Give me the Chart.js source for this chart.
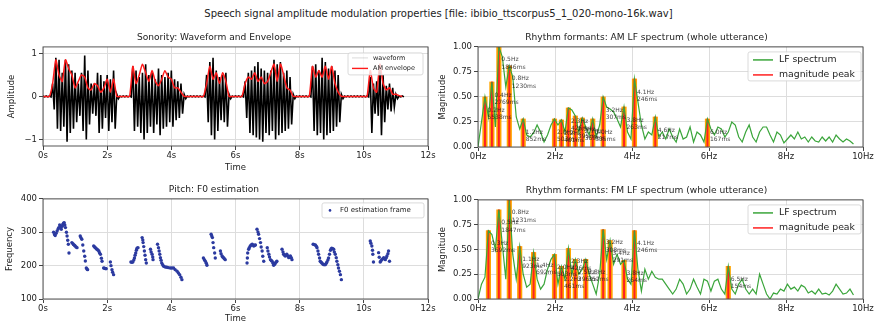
<!DOCTYPE html>
<html lang="en">
<head>
<meta charset="UTF-8">
<title>Speech signal amplitude modulation properties</title>
<script src="https://cdn.jsdelivr.net/npm/chart.js"></script>
<style>
    body { margin: 0; background: #fff; }
    .fig { position: relative; width: 877px; height: 327px; font-family: "DejaVu Sans", sans-serif; }
    .fig canvas { position: absolute; }
    .suptitle { position: absolute; left: 0; width: 877px; top: 8px; text-align: center; font-size: 10px; color: #222; }
</style>
</head>
<body>
<div class="fig">
    <div class="suptitle">Speech signal amplitude modulation properties [file: ibibio_ttscorpus5_1_020-mono-16k.wav]</div>
    <canvas id="cWave" width="440" height="148" style="left:0;top:28px"></canvas>
    <canvas id="cAM" width="447" height="135" style="left:430px;top:28px"></canvas>
    <canvas id="cPitch" width="440" height="147" style="left:0;top:180px"></canvas>
    <canvas id="cFM" width="447" height="134" style="left:430px;top:181px"></canvas>
</div>
<script>
    // ---- dados ----
    // forma de onda: amplitude max/min a cada 0.1 s (0 .. 11.2 s)
    var waveStep = 0.1;
    var waveHi = [0.01, 0.01, 0.01, 0.3, 0.9, 0.85, 0.55, 0.85, 0.75, 0.6,
        0.55, 0.3, 0.55, 0.95, 0.6, 0.3, 0.3, 0.55, 0.5, 0.35,
        0.5, 0.4, 0.6, 0.05, 0.01, 0.01, 0.01, 0.01, 0.7, 0.6,
        0.45, 0.55, 0.75, 0.5, 0.55, 0.4, 0.65, 0.5, 0.45, 0.55,
        0.6, 0.4, 0.35, 0.3, 0.05, 0.01, 0.01, 0.01, 0.01, 0.01,
        0.01, 0.5, 0.8, 0.9, 0.6, 0.45, 0.5, 0.55, 0.05, 0.01,
        0.01, 0.01, 0.01, 0.35, 0.55, 0.6, 0.7, 0.8, 0.65, 0.6,
        0.55, 0.6, 0.85, 0.75, 0.8, 0.55, 0.6, 0.45, 0.05, 0.01,
        0.01, 0.01, 0.01, 0.01, 0.7, 0.75, 0.6, 0.9, 0.8, 0.65,
        0.7, 0.6, 0.5, 0.05, 0.01, 0.01, 0.01, 0.01, 0.01, 0.01,
        0.01, 0.01, 0.45, 0.3, 0.35, 0.75, 0.5, 0.25, 0.3, 0.2,
        0.05, 0.01, 0.01];
    var waveLo = [-0.01, -0.01, -0.01, -0.3, -0.75, -0.8, -0.7, -1.05, -0.85, -0.75,
        -0.6, -0.45, -0.8, -1.0, -0.65, -0.4, -0.45, -0.85, -0.75, -0.5,
        -0.8, -0.6, -0.75, -0.05, -0.01, -0.01, -0.01, -0.01, -0.8, -0.7,
        -0.85, -1.0, -0.85, -0.7, -0.85, -0.65, -0.9, -0.75, -0.7, -0.6,
        -0.7, -0.55, -0.5, -0.4, -0.05, -0.01, -0.01, -0.01, -0.01, -0.01,
        -0.01, -0.6, -0.9, -1.0, -0.8, -0.55, -0.6, -0.7, -0.05, -0.01,
        -0.01, -0.01, -0.01, -0.5, -0.85, -0.9, -0.95, -1.0, -1.05, -0.85,
        -0.9, -0.8, -1.0, -0.9, -0.85, -0.8, -0.75, -0.65, -0.05, -0.01,
        -0.01, -0.01, -0.01, -0.01, -0.8, -0.9, -0.85, -1.0, -0.9, -0.85,
        -0.8, -0.7, -0.6, -0.05, -0.01, -0.01, -0.01, -0.01, -0.01, -0.01,
        -0.01, -0.01, -0.85, -0.4, -0.45, -0.9, -0.6, -0.3, -0.35, -0.25,
        -0.05, -0.01, -0.01];
    var envelope = [0, 0, 0, 0.3, 0.85, 0.5, 0.35, 0.85, 0.65, 0.5,
        0.2, 0.35, 0.5, 0.45, 0.2, 0.15, 0.3, 0.25, 0.1, 0.2,
        0.4, 0.1, 0.4, 0, 0, 0, 0, 0, 0.7, 0.3,
        0.5, 0.75, 0.55, 0.35, 0.6, 0.35, 0.25, 0.4, 0.6, 0.45,
        0.4, 0.2, 0.2, 0.1, 0, 0, 0, 0, 0, 0,
        0, 0.3, 0.7, 0.4, 0.55, 0.3, 0.55, 0.35, 0, 0,
        0, 0, 0, 0.3, 0.45, 0.4, 0.55, 0.35, 0.45, 0.3,
        0.35, 0.55, 0.75, 0.35, 0.75, 0.5, 0.2, 0.15, 0, 0,
        0, 0, 0, 0, 0.7, 0.45, 0.6, 0.45, 0.7, 0.4,
        0.7, 0.3, 0.1, 0, 0, 0, 0, 0, 0, 0,
        0, 0, 0.6, 0.2, 0.1, 0.75, 0.3, 0.15, 0.2, 0.05,
        0.05, 0.02, 0];

    // F0: instante (s) e frequência (Hz) de cada frame
    var pitchTime = [0.33, 0.36, 0.38, 0.41, 0.44, 0.47, 0.49, 0.52, 0.55, 0.57, 0.60, 0.62, 0.64, 0.66, 0.68, 0.70, 0.73, 0.75, 0.77, 0.79, 0.81,
        0.90, 0.93, 0.95, 0.98, 1.00, 1.03, 1.06,
        1.16, 1.18, 1.21, 1.24, 1.27, 1.30, 1.32, 1.35, 1.37, 1.39,
        1.58, 1.61, 1.63, 1.66, 1.68, 1.71, 1.74, 1.76, 1.79, 1.82, 1.84,
        1.89, 1.92, 1.95, 1.97,
        2.10, 2.12, 2.15, 2.17, 2.20,
        2.74, 2.77, 2.80, 2.83, 2.85, 2.87, 2.89, 2.91, 2.93, 2.96,
        3.09, 3.11, 3.12, 3.14, 3.16, 3.18, 3.20, 3.22,
        3.35, 3.37, 3.40, 3.42, 3.43,
        3.57, 3.60, 3.62, 3.64, 3.66, 3.68, 3.70, 3.73, 3.76, 3.81, 3.86, 3.91, 3.97, 4.02, 4.07, 4.12, 4.18, 4.22, 4.26, 4.30, 4.33,
        5.00, 5.03, 5.06, 5.09, 5.11,
        5.24, 5.26, 5.28, 5.30, 5.32, 5.35, 5.37,
        5.53, 5.55, 5.58, 5.60, 5.63, 5.65, 5.68,
        6.36, 6.37, 6.38, 6.41, 6.43, 6.46, 6.49, 6.52, 6.54, 6.57, 6.60, 6.62,
        6.67, 6.70, 6.72, 6.75, 6.78, 6.80, 6.83, 6.85, 6.88,
        6.99, 7.01, 7.04, 7.06, 7.09, 7.12, 7.14, 7.17, 7.19, 7.22, 7.24, 7.27, 7.29,
        7.45, 7.48, 7.50, 7.53, 7.55, 7.58, 7.60, 7.63, 7.66, 7.68, 7.71, 7.74, 7.76,
        8.42, 8.45, 8.49, 8.52, 8.54, 8.57, 8.59, 8.62, 8.64, 8.67, 8.69, 8.72, 8.75, 8.78, 8.80, 8.83, 8.85, 8.88, 8.90, 8.93, 8.96, 8.98, 9.00, 9.03, 9.06, 9.08, 9.11, 9.14, 9.16, 9.19, 9.21, 9.24, 9.27, 9.30,
        10.20, 10.22, 10.25, 10.27, 10.28, 10.30,
        10.46, 10.48, 10.51, 10.53, 10.56, 10.59, 10.62, 10.64, 10.67, 10.70, 10.72, 10.75, 10.77, 10.80];
    var pitchHz = [300, 293, 290, 297, 304, 310, 314, 322, 316, 309, 318, 324, 327, 329, 322, 314, 300, 289, 276, 264, 238,
        269, 266, 263, 261, 259, 256, 254,
        289, 284, 279, 262, 244, 228, 214, 193, 190, 188,
        259, 256, 254, 251, 249, 247, 244, 239, 234, 222, 213,
        193, 192, 191, 191,
        211, 200, 188, 180, 173,
        211, 210, 211, 217, 223, 231, 238, 246, 252, 254,
        284, 277, 269, 257, 244, 231, 218, 208,
        249, 241, 234, 226, 218,
        264, 254, 244, 234, 224, 216, 208, 203, 198, 196, 195, 194, 193, 193, 193, 188, 183, 178, 173, 165, 158,
        223, 218, 213, 207, 201,
        294, 289, 284, 269, 254, 238, 223,
        244, 236, 229, 226, 224, 221, 218,
        208, 223, 238, 249, 254, 259, 262, 264, 262, 259, 261, 262,
        309, 301, 294, 281, 269, 256, 244, 228, 213,
        254, 244, 234, 226, 218, 215, 213, 207, 201, 204, 208, 211, 213,
        249, 241, 234, 231, 229, 232, 234, 229, 224, 227, 229, 224, 218,
        264, 263, 262, 258, 254, 244, 234, 223, 213, 210, 208, 205, 203, 203, 203, 207, 211, 217, 223, 234, 246, 250, 252, 251, 249, 241, 234, 224, 213, 203, 193, 183, 173, 158,
        274, 267, 259, 246, 234, 211,
        239, 225, 211, 214, 218, 221, 224, 221, 218, 224, 229, 236, 244, 213];

    // espectros LF (bins de 0.0903 Hz)
    var binHz = 0.0903;
    var amSpectrum = [0.00, 0.25, 0.50, 0.30, 0.65, 0.20, 1.00, 0.90, 0.60, 0.81,
        0.70, 0.30, 0.18, 0.28, 0.12, 0.10, 0.14, 0.22, 0.15, 0.05,
        0.12, 0.22, 0.28, 0.22, 0.27, 0.15, 0.39, 0.37, 0.31, 0.15,
        0.29, 0.20, 0.12, 0.28, 0.10, 0.22, 0.50, 0.40, 0.38, 0.35,
        0.28, 0.20, 0.40, 0.15, 0.08, 0.68, 0.45, 0.22, 0.08, 0.15,
        0.12, 0.30, 0.10, 0.15, 0.08, 0.18, 0.10, 0.05, 0.18, 0.08,
        0.10, 0.20, 0.05, 0.15, 0.12, 0.05, 0.28, 0.18, 0.12, 0.20,
        0.18, 0.10, 0.15, 0.25, 0.22, 0.10, 0.05, 0.15, 0.22, 0.10,
        0.05, 0.15, 0.20, 0.20, 0.12, 0.05, 0.15, 0.12, 0.04, 0.08,
        0.12, 0.08, 0.15, 0.08, 0.10, 0.05, 0.10, 0.06, 0.05, 0.10,
        0.06, 0.10, 0.05, 0.12, 0.08, 0.05, 0.08, 0.06, 0.03];
    var fmSpectrum = [0.00, 0.15, 0.22, 0.69, 0.65, 0.50, 0.90, 0.55, 0.20, 1.00,
        0.45, 0.20, 0.53, 0.25, 0.12, 0.15, 0.47, 0.20, 0.10, 0.15,
        0.30, 0.40, 0.45, 0.15, 0.33, 0.20, 0.51, 0.25, 0.40, 0.25,
        0.30, 0.40, 0.25, 0.15, 0.05, 0.25, 0.70, 0.40, 0.59, 0.35,
        0.45, 0.35, 0.39, 0.20, 0.15, 0.69, 0.30, 0.08, 0.30, 0.20,
        0.28, 0.22, 0.20, 0.20, 0.15, 0.10, 0.05, 0.10, 0.20, 0.15,
        0.05, 0.10, 0.20, 0.12, 0.05, 0.20, 0.18, 0.08, 0.18, 0.20,
        0.10, 0.05, 0.33, 0.10, 0.05, 0.15, 0.20, 0.10, 0.05, 0.10,
        0.05, 0.25, 0.15, 0.05, 0.00, 0.06, 0.05, 0.10, 0.08, 0.15,
        0.10, 0.12, 0.08, 0.14, 0.12, 0.06, 0.08, 0.05, 0.10, 0.05,
        0.06, 0.04, 0.08, 0.15, 0.10, 0.05, 0.06, 0.10, 0.04];

    // picos de magnitude (AM)
    var amPeakHz = [0.181, 0.361, 0.542, 0.813, 1.174, 1.987, 2.167, 2.348, 2.528, 2.709, 2.980, 3.251, 3.793, 4.064, 4.605, 5.960];
    var amPeakMag = [0.50, 0.65, 1.00, 0.81, 0.28, 0.28, 0.27, 0.39, 0.31, 0.29, 0.28, 0.50, 0.40, 0.68, 0.30, 0.28];
    var amPeakFreqText = ["0.2Hz", "0.4Hz", "0.5Hz", "0.8Hz", "1.2Hz", "2.0Hz", "2.2Hz", "2.3Hz", "2.5Hz", "2.7Hz", "3.0Hz", "3.2Hz", "3.8Hz", "4.1Hz", "4.6Hz", "6.0Hz"];
    var amPeakMsText = ["5538ms", "2769ms", "1846ms", "1230ms", "852ms", "503ms", "461ms", "426ms", "395ms", "369ms", "335ms", "307ms", "263ms", "246ms", "217ms", "167ms"];

    // picos de magnitude (FM)
    var fmPeakHz = [0.271, 0.542, 0.813, 1.083, 1.444, 1.987, 2.167, 2.348, 2.528, 2.799, 3.251, 3.431, 3.793, 4.064, 6.501];
    var fmPeakMag = [0.69, 0.90, 1.00, 0.53, 0.47, 0.45, 0.33, 0.51, 0.40, 0.40, 0.70, 0.59, 0.39, 0.69, 0.33];
    var fmPeakFreqText = ["0.3Hz", "0.5Hz", "0.8Hz", "1.1Hz", "1.4Hz", "2.0Hz", "2.2Hz", "2.3Hz", "2.5Hz", "2.8Hz", "3.2Hz", "3.4Hz", "3.8Hz", "4.1Hz", "6.5Hz"];
    var fmPeakMsText = ["3692ms", "1847ms", "1231ms", "923ms", "692ms", "503ms", "461ms", "426ms", "396ms", "357ms", "308ms", "291ms", "264ms", "246ms", "154ms"];

    // ticks
    var timeTicks = [0, 2, 4, 6, 8, 10, 12];
    var ampTicks = [-1, 0, 1];
    var freqTicks = [100, 200, 300, 400];
    var hzTicks = [0, 2, 4, 6, 8, 10];
    var magTicks = [0, 0.25, 0.5, 0.75, 1];

    // ---- plugins ----
    Chart.defaults.font.family = "'DejaVu Sans', sans-serif";
    Chart.defaults.color = '#222';

    // moldura completa do eixo (spines)
    var frame = {
        id: 'frame',
        afterDatasetsDraw: function (chart) {
            var a = chart.chartArea, ctx = chart.ctx;
            ctx.save();
            ctx.strokeStyle = '#444';
            ctx.lineWidth = 0.9;
            ctx.strokeRect(a.left, a.top, a.right - a.left, a.bottom - a.top);
            ctx.restore();
        }
    };

    // legenda em caixa dentro da área do gráfico
    var boxLegend = {
        id: 'boxLegend',
        afterDraw: function (chart, args, o) {
            if (!o.items) return;
            var ctx = chart.ctx, a = chart.chartArea;
            var x = a.right - o.right - o.width, y = a.top + o.top;
            ctx.save();
            ctx.fillStyle = 'rgba(255,255,255,0.8)';
            ctx.strokeStyle = '#d0d0d0';
            ctx.lineWidth = 0.8;
            ctx.beginPath();
            ctx.roundRect(x, y, o.width, o.height, 2);
            ctx.fill();
            ctx.stroke();
            ctx.font = o.fontSize + "px 'DejaVu Sans'";
            ctx.textBaseline = 'middle';
            o.items.forEach(function (it, i) {
                var cy = y + o.rowTop + i * o.rowGap;
                if (it.dot) {
                    ctx.fillStyle = it.color;
                    ctx.beginPath();
                    ctx.arc(x + o.lineStart + 2, cy, 1.3, 0, Math.PI * 2);
                    ctx.fill();
                } else {
                    ctx.strokeStyle = it.color;
                    ctx.lineWidth = it.width;
                    ctx.beginPath();
                    ctx.moveTo(x + o.lineStart, cy);
                    ctx.lineTo(x + o.lineEnd, cy);
                    ctx.stroke();
                }
                ctx.fillStyle = '#222';
                ctx.fillText(it.label, x + o.textX, cy);
            });
            ctx.restore();
        }
    };

    // rótulos de frequência / período junto a cada pico
    var peakLabels = {
        id: 'peakLabels',
        afterDatasetsDraw: function (chart, args, o) {
            if (!o.hz) return;
            var ctx = chart.ctx, sx = chart.scales.x, sy = chart.scales.y;
            ctx.save();
            ctx.font = "6px 'DejaVu Sans'";
            ctx.fillStyle = 'rgba(30,30,30,0.85)';
            ctx.textBaseline = 'middle';
            o.hz.forEach(function (f, i) {
                var px = sx.getPixelForValue(f) + 2.5;
                var py = sy.getPixelForValue(o.mag[i]) + 13;
                ctx.fillText(o.freqText[i], px, py);
                ctx.fillText(o.msText[i], px, py + 7.3);
            });
            ctx.restore();
        }
    };

    Chart.register(frame, boxLegend, peakLabels);

    // ---- eixos ----
    function eixoX(min, max, ticks, fmt, title, height) {
        return {
            type: 'linear', min: min, max: max, offset: false,
            afterBuildTicks: function (s) { s.ticks = ticks.map(function (v) { return { value: v }; }); },
            afterFit: function (s) { s.height = height; },
            grid: { color: '#dddddd', tickColor: '#444', tickLength: 4, offset: false },
            border: { display: false },
            ticks: { font: { size: 8.5 }, color: '#222', padding: 1, maxRotation: 0, autoSkip: false, callback: fmt },
            title: { display: !!title, text: title, font: { size: 8.5 }, color: '#222', padding: { top: 0, bottom: 3 } }
        };
    }
    function eixoY(min, max, ticks, fmt, title, width, titlePad) {
        return {
            type: 'linear', min: min, max: max,
            afterBuildTicks: function (s) { s.ticks = ticks.map(function (v) { return { value: v }; }); },
            afterFit: function (s) { s.width = width; },
            grid: { color: '#dddddd', tickColor: '#444', tickLength: 4 },
            border: { display: false },
            ticks: { font: { size: 8.5 }, color: '#222', padding: 2, autoSkip: false, callback: fmt },
            title: { display: true, text: title, font: { size: 8.5 }, color: '#222', padding: { top: titlePad, bottom: 0 } }
        };
    }
    function titulo(text) {
        return { display: true, text: text, font: { size: 9.1, weight: 'normal' }, color: '#222', padding: { top: 4, bottom: 4 } };
    }
    var segundos = function (v) { return v + 's'; };
    var hertz = function (v) { return v + 'Hz'; };
    var duasCasas = function (v) { return v.toFixed(2); };
    var comMenos = function (v) { return v < 0 ? '\u2212' + Math.abs(v) : String(v); };

    var legendaEspectro = {
        right: 2, top: 5, width: 113, height: 29, rowTop: 8, rowGap: 15,
        lineStart: 5, lineEnd: 25, textX: 31, fontSize: 9.3,
        items: [
            { label: 'LF spectrum', color: '#3aa53a', width: 1.5 },
            { label: 'magnitude peak', color: '#ff2020', width: 1.5 }
        ]
    };

    // ---- Sonority: waveform + envelope ----
    var wavePts = [], envPts = [];
    for (var i = 0; i < waveHi.length; i++) {
        wavePts.push({ x: i * waveStep, y: waveHi[i] });
        wavePts.push({ x: i * waveStep + waveStep / 2, y: waveLo[i] });
        envPts.push({ x: i * waveStep, y: envelope[i] });
    }
    new Chart(document.getElementById('cWave'), {
        type: 'line',
        data: {
            datasets: [
                { label: 'AM envelope', data: envPts, borderColor: '#ff1a1a', borderWidth: 1.5, pointRadius: 0, tension: 0.2, order: 0 },
                { label: 'waveform', data: wavePts, borderColor: '#000', borderWidth: 1.6, pointRadius: 0, order: 1 }
            ]
        },
        options: {
            responsive: false, animation: false, devicePixelRatio: 1,
            layout: { padding: { right: 12 } },
            scales: {
                x: eixoX(0, 12, timeTicks, segundos, 'Time', 30),
                y: eixoY(-1.15, 1.15, ampTicks, comMenos, 'Amplitude', 43, 7)
            },
            plugins: {
                title: titulo('Sonority: Waveform and Envelope'),
                legend: { display: false }, tooltip: { enabled: false },
                boxLegend: {
                    right: 5, top: 6, width: 75, height: 22, rowTop: 5, rowGap: 10.5,
                    lineStart: 4, lineEnd: 20, textX: 25, fontSize: 6.5,
                    items: [
                        { label: 'waveform', color: 'rgba(0,0,0,0.25)', width: 0.6 },
                        { label: 'AM envelope', color: '#ff1a1a', width: 1.4 }
                    ]
                }
            }
        }
    });

    // ---- espectros AM / FM ----
    function graficoEspectro(id, spectrum, peakHz, peakMag, freqText, msText, title) {
        var lf = spectrum.map(function (m, k) { return { x: k * binHz, y: m }; });
        var peaks = peakHz.map(function (f, k) { return { x: f, y: peakMag[k] }; });
        return new Chart(document.getElementById(id), {
            type: 'line',
            data: {
                datasets: [
                    { label: 'LF spectrum', data: lf, borderColor: '#3aa53a', borderWidth: 1.2, pointRadius: 0, order: 0 },
                    { type: 'bar', label: 'magnitude peak', data: peaks, backgroundColor: '#ff2020', barThickness: 1.3, grouped: false, order: 1 },
                    { type: 'bar', label: 'peak', data: peaks, backgroundColor: '#ffa500', barThickness: 4.5, grouped: false, order: 2 }
                ]
            },
            options: {
                responsive: false, animation: false, devicePixelRatio: 1,
                layout: { padding: { right: 14 } },
                scales: {
                    x: eixoX(0, 10, hzTicks, hertz, '', 16),
                    y: eixoY(0, 1, magTicks, duasCasas, 'Magnitude', 48, 8)
                },
                plugins: {
                    title: titulo(title),
                    legend: { display: false }, tooltip: { enabled: false },
                    boxLegend: legendaEspectro,
                    peakLabels: { hz: peakHz, mag: peakMag, freqText: freqText, msText: msText }
                }
            }
        });
    }
    graficoEspectro('cAM', amSpectrum, amPeakHz, amPeakMag, amPeakFreqText, amPeakMsText,
        'Rhythm formants: AM LF spectrum (whole utterance)');
    graficoEspectro('cFM', fmSpectrum, fmPeakHz, fmPeakMag, fmPeakFreqText, fmPeakMsText,
        'Rhythm formants: FM LF spectrum (whole utterance)');

    // ---- Pitch: F0 ----
    var pitchPts = pitchTime.map(function (t, k) { return { x: t, y: pitchHz[k] }; });
    new Chart(document.getElementById('cPitch'), {
        type: 'scatter',
        data: {
            datasets: [
                { label: 'F0 estimation frame', data: pitchPts, backgroundColor: '#2b3aa0', borderWidth: 0, pointRadius: 1.7 }
            ]
        },
        options: {
            responsive: false, animation: false, devicePixelRatio: 1,
            layout: { padding: { right: 12 } },
            scales: {
                x: eixoX(0, 12, timeTicks, segundos, 'Time', 28),
                y: eixoY(100, 400, freqTicks, function (v) { return String(v); }, 'Frequency', 43, 5)
            },
            plugins: {
                title: titulo('Pitch: F0 estimation'),
                legend: { display: false }, tooltip: { enabled: false },
                boxLegend: {
                    right: 4, top: 4, width: 102, height: 15, rowTop: 7.5, rowGap: 0,
                    lineStart: 6, lineEnd: 10, textX: 18, fontSize: 7,
                    items: [{ label: 'F0 estimation frame', color: '#2b3aa0', dot: true }]
                }
            }
        }
    });
</script>
</body>
</html>
